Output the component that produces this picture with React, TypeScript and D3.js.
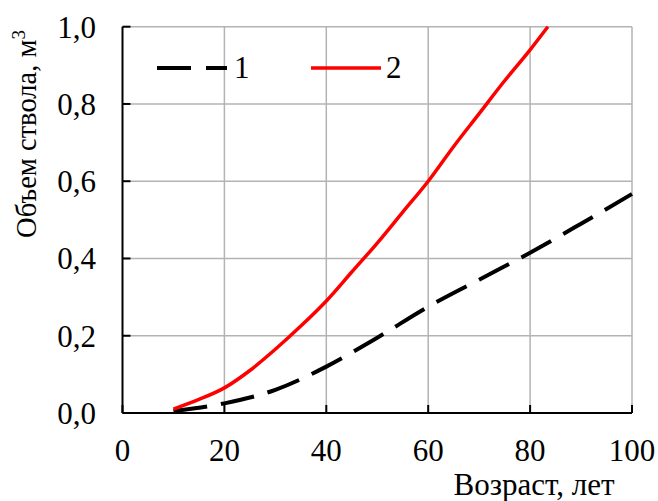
import React from "react";
import * as d3 from "d3";

const xTicks = [0, 20, 40, 60, 80, 100];
const yTicks = [0, 0.2, 0.4, 0.6, 0.8, 1.0];

const age1 = [10, 20, 30, 40, 50, 60, 70, 80, 90, 100];
const vol1 = [0.005, 0.025, 0.06, 0.12, 0.195, 0.275, 0.345, 0.415, 0.49, 0.567];

const age2 = [10, 15, 20, 25, 30, 35, 40, 45, 50, 55, 60, 65, 70, 75, 80, 83.5];
const vol2 = [0.01, 0.035, 0.065, 0.11, 0.165, 0.225, 0.29, 0.365, 0.44, 0.52, 0.6, 0.69, 0.775, 0.86, 0.94, 1.0];

const seriesNames = ["1", "2"];

export default function App() {
  const W = 658, H = 501;
  const left = 122.5, right = 632, top = 26.7, bottom = 413;
  const x = d3.scaleLinear().domain([0, 100]).range([left, right]);
  const y = d3.scaleLinear().domain([0, 1]).range([bottom, top]);
  const line = d3.line<[number, number]>().x(d => x(d[0])).y(d => y(d[1])).curve(d3.curveMonotoneX);
  const d1 = line(age1.map((a, i) => [a, vol1[i]]) as [number, number][]) || "";
  const d2 = line(age2.map((a, i) => [a, vol2[i]]) as [number, number][]) || "";
  const fmt = (v: number) => v.toFixed(1).replace(".", ",");
  const font = "'Liberation Serif', 'Times New Roman', serif";
  return (
    <svg width={W} height={H} style={{ position: "absolute", left: 0, top: 0, background: "#fff" }} fontFamily={font}>
      {xTicks.filter(t => t > 0).map(t => (
        <line key={"gx" + t} x1={x(t)} x2={x(t)} y1={top} y2={bottom} stroke="#b3b3b3" strokeWidth={1.5} />
      ))}
      {yTicks.filter(t => t > 0).map(t => (
        <line key={"gy" + t} x1={left} x2={right} y1={y(t)} y2={y(t)} stroke="#b3b3b3" strokeWidth={1.5} />
      ))}
      <path d={d1} fill="none" stroke="#000" strokeWidth={4} strokeDasharray="34 14" />
      <path d={d2} fill="none" stroke="#ff0000" strokeWidth={3.5} />
      <line x1={left} x2={left} y1={top} y2={bottom} stroke="#000" strokeWidth={2} />
      <line x1={left} x2={right} y1={bottom} y2={bottom} stroke="#000" strokeWidth={2} />
      {xTicks.map(t => (
        <line key={"tx" + t} x1={x(t)} x2={x(t)} y1={bottom} y2={bottom - 8} stroke="#000" strokeWidth={2} />
      ))}
      {yTicks.map(t => (
        <line key={"ty" + t} x1={left} x2={left + 8} y1={y(t)} y2={y(t)} stroke="#000" strokeWidth={2} />
      ))}
      {xTicks.map(t => (
        <text key={"lx" + t} x={x(t)} y={461} textAnchor="middle" fontSize={31}>{t}</text>
      ))}
      {yTicks.map(t => (
        <text key={"ly" + t} x={96} y={y(t) + 11} textAnchor="end" fontSize={31}>{fmt(t)}</text>
      ))}
      <text x={534} y={495} textAnchor="middle" fontSize={31}>Возраст, лет</text>
      <text transform={`translate(36,${134}) rotate(-90)`} textAnchor="middle" fontSize={28.5}>
        Объем ствола, м<tspan dy={-11} fontSize={19}>3</tspan>
      </text>
      <line x1={157} x2={227} y1={68} y2={68} stroke="#000" strokeWidth={4} strokeDasharray="34 15" />
      <text x={234} y={78} fontSize={31}>{seriesNames[0]}</text>
      <line x1={311} x2={381} y1={68} y2={68} stroke="#ff0000" strokeWidth={3.5} />
      <text x={386} y={78} fontSize={31}>{seriesNames[1]}</text>
    </svg>
  );
}
